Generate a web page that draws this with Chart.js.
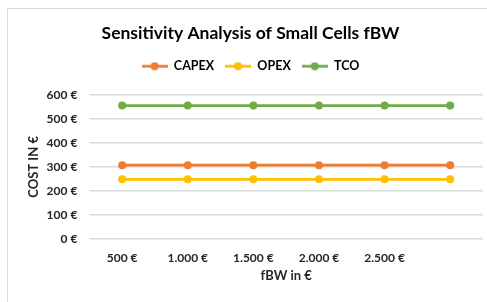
<!DOCTYPE html>
<html>
<head>
<meta charset="utf-8">
<script src="https://cdn.jsdelivr.net/npm/chart.js@4"></script>
<style>
    body { margin: 0; background: #fff; }
    #frame {
        position: absolute; left: 7px; top: 8px; width: 480px; height: 294px;
        border-left: 1px solid #d9d9d9; border-top: 1px solid #d9d9d9;
    }
</style>
</head>
<body>
<div id="frame"><canvas id="costChart" width="479" height="293"></canvas></div>
<script>
const fbwLabels = ['500 €', '1.000 €', '1.500 €', '2.000 €', '2.500 €', ''];
const capexValues = [307, 307, 307, 307, 307, 307];
const opexValues = [248, 248, 248, 248, 248, 248];
const tcoValues = [555, 555, 555, 555, 555, 555];

const colors = { capex: '#ED7D31', opex: '#FFC000', tco: '#70AD47' };

// little line-with-dot marker used in the legend
function legendIcon(color) {
    const c = document.createElement('canvas');
    c.width = 26; c.height = 9;
    const ctx = c.getContext('2d');
    ctx.strokeStyle = color;
    ctx.lineWidth = 2.75;
    ctx.beginPath();
    ctx.moveTo(0, 4.5); ctx.lineTo(26, 4.5);
    ctx.stroke();
    ctx.fillStyle = color;
    ctx.beginPath();
    ctx.arc(13, 4.5, 4, 0, Math.PI * 2);
    ctx.fill();
    return c;
}

function makeDataset(label, data, color) {
    return {
        label: label,
        data: data,
        borderColor: color,
        backgroundColor: color,
        borderWidth: 2.75,
        pointRadius: 4,
        pointHoverRadius: 4,
        pointBorderWidth: 0,
        icon: legendIcon(color)
    };
}

new Chart(document.getElementById('costChart'), {
    type: 'line',
    data: {
        labels: fbwLabels,
        datasets: [
            makeDataset('CAPEX', capexValues, colors.capex),
            makeDataset('OPEX', opexValues, colors.opex),
            makeDataset('TCO', tcoValues, colors.tco)
        ]
    },
    options: {
        responsive: false,
        animation: false,
        layout: { padding: { left: 10, right: 4, top: 0, bottom: 18 } },
        plugins: {
            title: {
                display: true,
                text: 'Sensitivity Analysis of Small Cells fBW',
                color: '#000',
                font: { family: 'Lato', size: 17.5, weight: 'bold' },
                padding: { top: 14, bottom: 5 }
            },
            // empty subtitle used as a spacer between legend and plot
            subtitle: {
                display: true,
                text: '',
                font: { size: 1 },
                padding: { top: 11, bottom: 0 }
            },
            legend: {
                position: 'top',
                weight: 1800,
                labels: {
                    usePointStyle: true,
                    pointStyleWidth: 26,
                    color: '#111',
                    font: { family: 'Lato', size: 12.5, weight: 'bold' },
                    padding: 11,
                    generateLabels: function(chart) {
                        return chart.data.datasets.map((ds, i) => ({
                            text: ds.label,
                            pointStyle: ds.icon,
                            fillStyle: ds.borderColor,
                            strokeStyle: ds.borderColor,
                            lineWidth: 0,
                            datasetIndex: i
                        }));
                    }
                }
            },
            tooltip: { enabled: false }
        },
        scales: {
            y: {
                min: 0,
                max: 600,
                ticks: {
                    stepSize: 100,
                    padding: 12,
                    color: '#262626',
                    font: { family: 'Lato', size: 12, weight: 'bold' },
                    callback: v => v + ' €'
                },
                grid: { color: '#d9d9d9', lineWidth: 1.5, drawTicks: false },
                border: { display: false },
                title: {
                    display: true,
                    text: 'COST IN €',
                    color: '#262626',
                    font: { family: 'Lato', size: 13, weight: 'bold' },
                    padding: { top: 8, bottom: -7 }
                }
            },
            x: {
                offset: true,
                ticks: {
                    padding: 12,
                    maxRotation: 0,
                    autoSkip: false,
                    color: '#262626',
                    font: { family: 'Lato', size: 12, weight: 'bold' }
                },
                grid: { display: false, drawTicks: false },
                border: { display: false },
                title: {
                    display: true,
                    text: 'fBW in €',
                    color: '#262626',
                    font: { family: 'Lato', size: 13, weight: 'bold' },
                    padding: { top: -9, bottom: 0 }
                }
            }
        }
    }
});
</script>
</body>
</html>
